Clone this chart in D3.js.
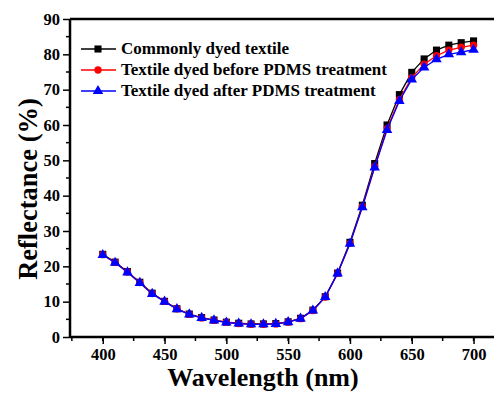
<!DOCTYPE html>
<meta charset="utf-8">
<title>Reflectance</title>
<script src="https://d3js.org/d3.v7.min.js"></script>
<style>
  body { margin: 0; background: #fff; }
  text { font-family: "Liberation Serif", "Times New Roman", serif; font-weight: bold; }
</style>
<body>
</body>
<script>
var wavelengths = d3.range(400, 701, 10);
var commonlyDyed = [23.4, 21.2, 18.5, 15.5, 12.4, 10.1, 8.0, 6.5, 5.5, 4.8, 4.2, 3.9, 3.7, 3.7, 3.8, 4.3, 5.3, 7.6, 11.4, 18.1, 26.8, 37.3, 49.1, 60.0, 68.6, 74.9, 78.7, 81.2, 82.6, 83.3, 83.8];
var dyedBefore   = [23.3, 21.1, 18.4, 15.4, 12.3, 10.1, 8.0, 6.4, 5.4, 4.7, 4.2, 3.8, 3.6, 3.6, 3.7, 4.2, 5.2, 7.5, 11.3, 18.0, 26.5, 36.9, 48.2, 59.0, 67.2, 73.4, 77.2, 79.6, 81.2, 82.0, 82.6];
var dyedAfter    = [23.2, 21.0, 18.3, 15.3, 12.2, 10.0, 7.9, 6.4, 5.4, 4.7, 4.1, 3.8, 3.6, 3.6, 3.7, 4.2, 5.2, 7.5, 11.3, 18.0, 26.4, 36.7, 48.0, 58.6, 66.8, 72.9, 76.3, 78.6, 80.0, 80.6, 81.3];
var seriesNames = ["Commonly dyed textile", "Textile dyed before PDMS treatment", "Textile dyed after PDMS treatment"];
var xTicks = [400, 450, 500, 550, 600, 650, 700];
var yTicks = [0, 10, 20, 30, 40, 50, 60, 70, 80, 90];

var width = 494, height = 394;
var mLeft = 70, mTop = 19, mBottom = 337;

var x = d3.scaleLinear().domain([373.5, 725]).range([mLeft, mLeft + 351.5 * 1.236]);
var y = d3.scaleLinear().domain([0, 90]).range([mBottom, mTop]);

var svg = d3.select("body").append("svg")
  .attr("width", width)
  .attr("height", height);

var series = [
  {name: seriesNames[0], values: commonlyDyed, color: "#000000", shape: d3.symbolSquare, size: 50},
  {name: seriesNames[1], values: dyedBefore, color: "#ff0000", shape: d3.symbolCircle, size: 42},
  {name: seriesNames[2], values: dyedAfter, color: "#0000ff", shape: d3.symbolTriangle, size: 48}
];

// minor ticks
var xMinor = d3.range(375, 726, 25);
var yMinor = d3.range(5, 90, 10);

svg.append("g").selectAll("line").data(xMinor).enter().append("line")
  .attr("x1", function (d) { return x(d); }).attr("x2", function (d) { return x(d); })
  .attr("y1", mBottom).attr("y2", mBottom + 4)
  .attr("stroke", "#000").attr("stroke-width", 1.5);
svg.append("g").selectAll("line").data(yMinor).enter().append("line")
  .attr("y1", function (d) { return y(d); }).attr("y2", function (d) { return y(d); })
  .attr("x1", mLeft).attr("x2", mLeft - 4)
  .attr("stroke", "#000").attr("stroke-width", 1.5);

var xAxis = svg.append("g")
  .attr("transform", "translate(0," + mBottom + ")")
  .call(d3.axisBottom(x).tickValues(xTicks).tickSize(7).tickPadding(4));
var yAxis = svg.append("g")
  .attr("transform", "translate(" + mLeft + ",0)")
  .call(d3.axisLeft(y).tickValues(yTicks).tickSize(7).tickPadding(3));

[xAxis, yAxis].forEach(function (a) {
  a.select(".domain").remove();
  a.selectAll("line").attr("stroke-width", 1.5);
  a.selectAll("text").attr("font-size", 16.5).attr("fill", "#000")
    .style("font-family", "'Liberation Serif', serif").style("font-weight", "bold");
});

// frame
svg.append("line").attr("x1", mLeft).attr("x2", width).attr("y1", mBottom).attr("y2", mBottom)
  .attr("stroke", "#000").attr("stroke-width", 2.5);
svg.append("line").attr("x1", mLeft).attr("x2", width).attr("y1", mTop).attr("y2", mTop)
  .attr("stroke", "#000").attr("stroke-width", 2.5);
svg.append("line").attr("x1", mLeft).attr("x2", mLeft).attr("y1", mTop).attr("y2", mBottom)
  .attr("stroke", "#000").attr("stroke-width", 2.5);

var line = d3.line()
  .x(function (d, i) { return x(wavelengths[i]); })
  .y(function (d) { return y(d); });

series.forEach(function (s) {
  svg.append("path")
    .datum(s.values)
    .attr("d", line)
    .attr("fill", "none")
    .attr("stroke", s.color)
    .attr("stroke-width", 1.3);
  svg.append("g").selectAll("path").data(s.values).enter().append("path")
    .attr("transform", function (d, i) { return "translate(" + x(wavelengths[i]) + "," + y(d) + ")"; })
    .attr("d", d3.symbol().type(s.shape).size(s.size))
    .attr("fill", s.color);
});

// legend
var legend = svg.append("g");
series.forEach(function (s, i) {
  var ly = 49 + i * 21;
  legend.append("line").attr("x1", 81).attr("x2", 116).attr("y1", ly).attr("y2", ly)
    .attr("stroke", s.color).attr("stroke-width", 1.3);
  legend.append("path").attr("transform", "translate(98," + ly + ")")
    .attr("d", d3.symbol().type(s.shape).size(s.size)).attr("fill", s.color);
  legend.append("text").attr("x", 121).attr("y", ly + 5)
    .attr("font-size", 17).attr("fill", "#000").text(s.name);
});

// axis titles
svg.append("text")
  .attr("x", 263).attr("y", 386)
  .attr("text-anchor", "middle")
  .attr("font-size", 26)
  .text("Wavelength (nm)");
svg.append("text")
  .attr("transform", "translate(37,189) rotate(-90)")
  .attr("text-anchor", "middle")
  .attr("font-size", 26.5)
  .text("Reflectance (%)");
</script>
